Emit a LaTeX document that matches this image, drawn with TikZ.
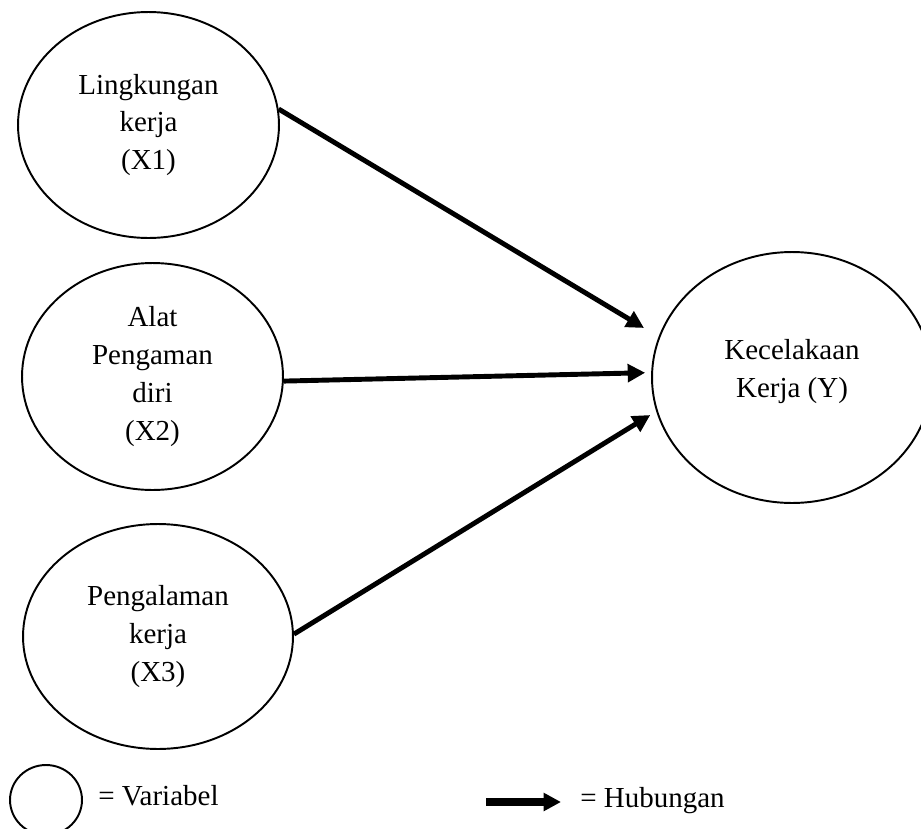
\documentclass[tikz,border=0pt]{standalone}
\usepackage{fontspec}
\setmainfont{Liberation Serif}
\usepackage{tikz}
\usetikzlibrary{shapes.geometric,positioning,calc,arrows.meta}
\tikzset{
  var/.style    = {ellipse, draw=black, line width=1.1pt, inner sep=0pt,
                   align=center, font=\fontsize{16.5}{21.5}\selectfont},
  rel/.style    = {line width=2.8pt, -{Triangle[length=0.35cm,width=0.35cm]}},
  legtext/.style= {inner sep=0pt, font=\fontsize{16.5}{21.5}\selectfont},
}

\begin{document}
\begin{tikzpicture}[x=0.02cm, y=-0.02cm]
\clip (0,0) rectangle (921,829);
% Left column: X1, X2, X3
\node[var, minimum width=5.22cm, minimum height=4.52cm] (x1) at (148.5,125) {Lingkungan\\kerja\\(X1)};
\node[var, minimum width=5.22cm, minimum height=4.54cm] (x2) at (152.5,376.5) {Alat\\Pengaman\\diri\\(X2)};
\node[var, minimum width=5.40cm, minimum height=4.50cm] (x3) at (158,636.5) {Pengalaman\\kerja\\(X3)};
% Right: dependent variable
\node[var, minimum width=5.60cm, minimum height=5.02cm, text depth=0.35cm] (y) at (792,377.5) {Kecelakaan\\Kerja (Y)};
% Relations
\draw[rel, shorten >=0.34cm] (x1.7) -- (y.163);
\draw[rel, shorten >=0.12cm] (x2.-2.5) -- (y.178);
\draw[rel, shorten >=0.14cm] (x3.1) -- (y.194);
% Legend
\node[var, minimum width=1.44cm, minimum height=1.4cm] (legvar) at (46,800) {};
\node[legtext, anchor=base west] (legvartxt) at (98,805) {= Variabel};
\coordinate (hubA) at (486,802);
\coordinate (hubB) at (561,802);
\draw[line width=4.2pt, -{Triangle[length=0.35cm,width=0.35cm]}] (hubA) -- (hubB);
\node[legtext, anchor=base west] (legreltxt) at (580,807) {= Hubungan};
\end{tikzpicture}
\end{document}
